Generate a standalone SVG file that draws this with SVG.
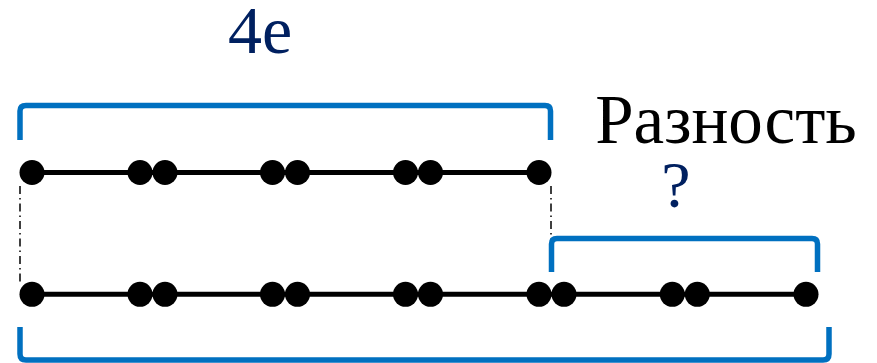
<svg xmlns="http://www.w3.org/2000/svg" width="877" height="363" viewBox="0 0 877 363">
<defs>
<style>
.br{fill:none;stroke:#0070C0;stroke-width:5.5;stroke-linejoin:round}
.ln{stroke:#000;stroke-width:5}
.dd{stroke:#000;stroke-width:1.5;stroke-dasharray:8 4 1.5 4;fill:none}
.dot{fill:#000}
.t{font-family:"Liberation Serif","Times New Roman",serif}
</style>
</defs>
<g id="connectors">
<line class="dd" x1="20" y1="186" x2="20" y2="282"/>
<line class="dd" x1="551" y1="186" x2="551" y2="272"/>
</g>
<g id="bracket-top">
<path class="br" d="M20,140 V111 Q20,105.5 26,105.5 H545 Q550.5,105.5 550.5,111 V140"/>
</g>
<g id="bracket-right">
<path class="br" d="M551.5,272 V244 Q551.5,238.5 557,238.5 H812 Q817.5,238.5 817.5,244 V272"/>
</g>
<g id="bracket-bottom">
<path class="br" d="M20,327 V354 Q20,360 26,360 H823 Q829,360 829,354 V327"/>
</g>
<g id="line-top">
<line class="ln" x1="32" y1="172.5" x2="539" y2="172.5"/>
<g class="dot">
<circle cx="32" cy="172.5" r="12.5"/>
<circle cx="140" cy="172.5" r="12.5"/>
<circle cx="165" cy="172.5" r="12.5"/>
<circle cx="272.5" cy="172.5" r="12.5"/>
<circle cx="297.5" cy="172.5" r="12.5"/>
<circle cx="405.5" cy="172.5" r="12.5"/>
<circle cx="430.5" cy="172.5" r="12.5"/>
<circle cx="539" cy="172.5" r="12.5"/>
</g>
</g>
<g id="line-bottom">
<line class="ln" x1="32" y1="294.3" x2="806" y2="294.3"/>
<g class="dot">
<circle cx="32" cy="294.3" r="12.5"/>
<circle cx="140" cy="294.3" r="12.5"/>
<circle cx="165" cy="294.3" r="12.5"/>
<circle cx="272.5" cy="294.3" r="12.5"/>
<circle cx="297.5" cy="294.3" r="12.5"/>
<circle cx="405.5" cy="294.3" r="12.5"/>
<circle cx="430.5" cy="294.3" r="12.5"/>
<circle cx="539" cy="294.3" r="12.5"/>
<circle cx="564" cy="294.3" r="12.5"/>
<circle cx="672.3" cy="294.3" r="12.5"/>
<circle cx="697.3" cy="294.3" r="12.5"/>
<circle cx="806" cy="294.3" r="12.5"/>
</g>
</g>
<g id="label-4e">
<text class="t" x="260" y="53" font-size="68" fill="#002060" text-anchor="middle">4e</text>
</g>
<g id="label-raznost">
<text class="t" x="726" y="143" font-size="69" fill="#000" text-anchor="middle">Разность</text>
</g>
<g id="label-q">
<text class="t" x="676" y="207" font-size="66" fill="#002060" text-anchor="middle">?</text>
</g>
</svg>
